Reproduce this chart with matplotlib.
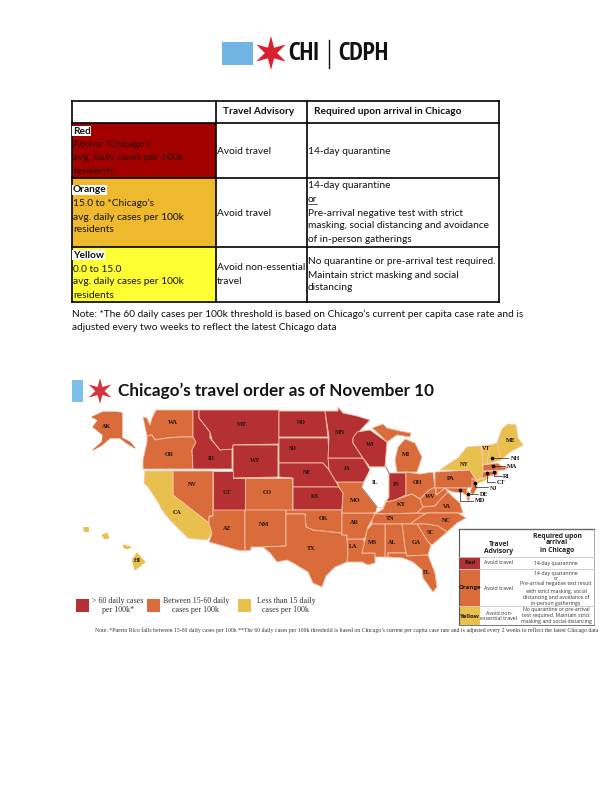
import numpy as np
import matplotlib
matplotlib.use("Agg")
import matplotlib.pyplot as plt
from matplotlib import font_manager as fm
from matplotlib.patches import Polygon, Rectangle, PathPatch
from matplotlib.path import Path
from matplotlib.transforms import Affine2D

# ---------- map data (outlines, page-pixel space) ----------
RED_STATES = ["MT", "ID", "WY", "ND", "SD", "NE", "KS", "UT", "MN", "WI", "IA", "IN"]
YELLOW_STATES = ["CA", "NY", "NY2", "VT", "NH", "ME", "HI", "HI2", "HI3", "HI4"]
NO_DATA_STATES = ["IL"]

OUTLINES = {
 "WA": [(143,417),(147,418),(150,425),(152,418),(156,410),(193,410),(193,437),(180,437),(167,438),(155,440),(152,435),(147,436),(144,422)],
 "OR": [(147,436),(152,435),(155,440),(167,438),(180,437),(195,437),(196,442),(192,450),(193,469),(143,469),(143,460),(147,442)],
 "ID": [(193,410),(199,410),(199,418),(203,423),(210,432),(210,438),(220,450),(232,448),(232,469),(193,469),(192,450),(196,442),(193,437)],
 "MT": [(199,410),(279,410),(279,444),(233,445),(233,449),(220,450),(212,440),(210,432),(203,423),(199,418)],
 "WY": [(233,445),(278,445),(278,477),(233,478)],
 "ND": [(279,411),(325,411),(328,437),(279,437)],
 "SD": [(279,438),(328,438),(329,458),(329,470),(323,463),(279,463)],
 "NE": [(279,463),(323,463),(329,470),(335,480),(339,487),(293,487),(293,478),(279,477)],
 "KS": [(293,487),(339,487),(343,493),(342,510),(293,510)],
 "NV": [(173,471),(213,471),(213,516),(209,516),(209,523),(173,495)],
 "CA": [(145,471),(173,471),(173,495),(209,523),(212,533),(207,540),(188,538),(180,530),(170,520),(162,510),(158,502),(148,487),(144,483)],
 "UT": [(213,471),(233,471),(233,478),(245,478),(245,510),(213,510)],
 "CO": [(245,478),(292,478),(292,510),(245,510)],
 "AZ": [(213,510),(245,510),(245,551),(237,550),(209,542),(212,533),(209,524),(209,517),(213,516)],
 "NM": [(245,510),(286,510),(286,546),(263,547),(251,547),(251,550),(245,551)],
 "OK": [(286,510),(342,510),(342,535),(341,533),(313,530),(306,527),(305,514),(286,514)],
 "TX": [(286,514),(305,514),(306,527),(313,530),(341,533),(342,535),(347,535),(347,539),(348,553),(347,562),(335,567),(326,576),(322,587),(313,583),(308,572),(293,563),(287,560),(277,562),(270,553),(263,547),(286,546)],
 "LA": [(347,539),(363,539),(365,543),(362,553),(375,553),(375,563),(368,565),(362,562),(347,562),(348,553)],
 "AR": [(342,513),(373,513),(375,514),(372,520),(368,527),(365,538),(363,539),(347,539),(347,535),(342,535)],
 "MO": [(337,482),(364,482),(362,488),(370,498),(377,507),(376,512),(373,513),(342,513),(342,510),(343,493),(339,487)],
 "IA": [(328,458),(363,458),(370,470),(364,482),(337,482),(335,480),(329,470)],
 "MN": [(325,411),(338,411),(338,407),(343,413),(357,416),(370,420),(353,438),(353,443),(363,458),(328,458),(329,437)],
 "WI": [(357,432),(370,430),(387,442),(385,467),(370,467),(363,458),(353,443),(353,438)],
 "MI": [(372,428),(383,424),(387,428),(400,431),(411,433),(410,437),(397,435),(387,442),(380,435)],
 "MI2": [(405,439),(415,443),(422,457),(417,472),(397,472),(395,460),(398,447)],
 "IL": [(370,467),(386,467),(389,473),(389,497),(385,502),(383,508),(377,507),(370,498),(362,488),(364,482),(370,470)],
 "IN": [(389,473),(406,473),(406,495),(395,500),(386,502),(389,497)],
 "OH": [(406,472),(420,474),(433,472),(435,487),(428,491),(420,499),(412,494),(406,496)],
 "KY": [(375,514),(383,509),(386,502),(395,500),(406,496),(412,494),(420,499),(423,507),(417,513)],
 "TN": [(375,514),(427,513),(420,517),(410,524),(372,524),(372,520)],
 "WV": [(420,499),(428,491),(435,487),(436,495),(445,488),(448,492),(440,500),(435,506),(423,507)],
 "VA": [(423,507),(435,506),(440,500),(448,492),(453,497),(460,503),(463,513),(417,513)],
 "NC": [(427,513),(458,513),(466,518),(457,523),(447,532),(438,526),(427,524),(410,524),(420,517)],
 "SC": [(417,524),(427,524),(438,526),(447,532),(432,545),(428,542)],
 "GA": [(402,524),(417,524),(428,542),(431,545),(428,555),(407,556),(405,548)],
 "AL": [(385,524),(402,524),(405,548),(406,553),(388,553),(388,557),(385,557)],
 "MS": [(372,524),(385,524),(385,557),(375,557),(375,553),(362,553),(365,540),(367,530)],
 "FL": [(388,553),(406,553),(407,556),(428,555),(435,573),(437,587),(433,592),(423,578),(422,570),(413,562),(403,558),(388,557)],
 "PA": [(435,472),(470,470),(476,480),(472,487),(467,488),(435,488)],
 "NY": [(440,470),(450,463),(458,458),(467,447),(481,446),(482,455),(483,470),(485,477),(476,480),(470,470)],
 "NY2": [(477,481),(489,477),(485,480),(478,483)],
 "VT": [(482,446),(490,445),(487,464),(483,464)],
 "NH": [(490,445),(497,443),(501,460),(487,464)],
 "ME": [(497,443),(502,429),(508,424),(516,425),(518,438),(523,445),(510,452),(501,460)],
 "MA": [(483,465),(498,463),(502,467),(508,467),(505,470),(483,471)],
 "CT": [(483,472),(493,471),(494,475),(482,478)],
 "RI": [(494,471),(498,471),(497,475),(494,476)],
 "NJ": [(472,478),(477,482),(477,488),(473,495),(470,492),(472,487)],
 "DE": [(467,488),(469,495),(470,497),(467,497)],
 "MD": [(436,488),(467,488),(467,497),(470,498),(468,502),(466,495),(463,493),(453,492),(448,490),(445,488),(436,495)],
 "AK": [(103,412),(117,412),(122,413),(122,438),(130,442),(135,448),(128,444),(120,438),(110,438),(102,445),(93,450),(102,442),(103,435),(97,430),(93,427),(98,420),(92,417)],
 "HI": [(132,560),(137,553),(145,562),(135,570)],
 "HI2": [(123,545),(131,547),(128,549),(124,548)],
 "HI3": [(102,535),(107,533),(109,538),(105,539)],
 "HI4": [(83,527),(88,527),(88,531),(84,531)],
}
STATE_LABELS = {
 "AK":(107,427),"WA":(173,423),"OR":(169,454),"MT":(242,425),"ID":(211,458),"WY":(255,461),
 "ND":(301,423),"SD":(293,449),"NE":(307,473),"KS":(315,497),"NV":(192,484),"CA":(177,512),
 "UT":(227,492),"CO":(267,492),"AZ":(227,528),"NM":(264,524),"OK":(323,519),"TX":(311,548),
 "HI":(137,561),"MN":(340,432),"WI":(370,445),"IA":(347,468),"IL":(375,483),"IN":(396,484),
 "MI":(406,455),"MO":(355,501),"AR":(354,522),"LA":(353,546),"MS":(373,542),"AL":(392,542),
 "GA":(416,542),"FL":(427,573),"SC":(431,532),"NC":(446,520),"TN":(390,518),"KY":(401,505),
 "VA":(447,506),"WV":(430,497),"OH":(417,483),"PA":(451,478),"NY":(464,464),"VT":(486,449),"ME":(511,440),
}
LEADER_LABELS = ["NH", "MA", "RI", "CT", "NJ", "DE", "MD"]
LEADER_DOTS = [(492,458),(493,466),(494,472),(487,473),(475,483),(468,494),(460,490)]
LEADER_ELBOWS = [(508,458),(505,466),(494,476),(487,482),(475,487),(478,494),(460,501)]
LEADER_ENDS = [(508,458),(505,466),(502,476),(495,482),(488,487),(478,494),(473,501)]
LEADER_TEXT_X = [511,507,503,497,490,480,475]
LEADER_TEXT_Y = [458,466,476,482,488,494,501]
GRAY_BORDERS = [[(386,467),(389,473)], [(362,488),(370,498),(377,507)]]

# ---------- table data ----------
HEADERS = ["Travel Advisory", "Required upon arrival in Chicago"]
ROW_NAMES = ["Red", "Orange", "Yellow"]
ROW_RANGES = [["Above *Chicago\u2019s", "avg. daily cases per 100k", "residents"],
              ["15.0 to *Chicago\u2019s", "avg. daily cases per 100k", "residents"],
              ["0.0 to 15.0", "avg. daily cases per 100k", "residents"]]
ADVISORIES = [["Avoid travel"], ["Avoid travel"], ["Avoid non-essential", "travel"]]
REQUIRED = [["14-day quarantine"],
            ["14-day quarantine", "or", "Pre-arrival negative test with strict",
             "masking, social distancing and avoidance", "of in-person gatherings"],
            ["No quarantine or pre-arrival test required.", "Maintain strict masking and social", "distancing"]]
NOTE = ["Note: *The 60 daily cases per 100k threshold is based on Chicago\u2019s current per capita case rate and is",
        "adjusted every two weeks to reflect the latest Chicago data"]
MAP_TITLE = "Chicago\u2019s travel order as of November 10"
LEGEND_TEXT = ["> 60 daily cases\nper 100k*", "Between 15-60 daily\ncases per 100k", "Less than 15 daily\ncases per 100k"]
MAP_NOTE = ("Note: *Puerto Rico falls between 15-60 daily cases per 100k **The 60 daily cases per 100k threshold is based on "
            "Chicago\u2019s current per capita case rate and is adjusted every 2 weeks to reflect the latest Chicago data")
MINI_REQUIRED = [["14-day quarantine"],
                 ["14-day quarantine", "or", "Pre-arrival negative test result", "with strict masking, social",
                  "distancing and avoidance of", "in-person gatherings"],
                 ["No quarantine or pre-arrival", "test required. Maintain strict", "masking and social distancing"]]
MINI_ADVISORY = ["Avoid travel", "Avoid travel", "Avoid non-\nessential travel"]

# ---------- colours ----------
C_RED, C_ORANGE, C_YELLOW = "#b53032", "#d96c3a", "#e9c04e"
EDGE = "#f6c3a8"
TABLE_FILLS = ["#a30000", "#efb92d", "#ffff33"]
SANS = "Lato"
SERIF = "Liberation Serif"

fig = plt.figure(figsize=(6.12, 7.92), dpi=100, facecolor="white")
ax = fig.add_axes([0, 0, 1, 1])
ax.set_xlim(0, 612); ax.set_ylim(792, 0); ax.axis("off")

def star(cx, cy, r, color):
    verts = Path.unit_regular_star(6, innerCircle=0.36)
    tr = Affine2D().scale(r, -r).translate(cx, cy)
    ax.add_patch(PathPatch(verts.transformed(tr), fc=color, ec="none", zorder=3))

# pick a condensed bold face if one is installed
def narrow_font():
    best = None
    for f in fm.fontManager.ttflist:
        n = f.name.lower()
        narrow = "narrow" in n or "condensed" in n or "condensed" in str(f.stretch)
        heavy = f.weight in ("bold", 700, "heavy", "black", 800, 900)
        if narrow and heavy:
            best = f
            if "narrow" in n:
                break
    return fm.FontProperties(fname=best.fname) if best else fm.FontProperties(family="Roboto", weight="bold")

def fit_text(x_left, x_right, yc, s, max_h):
    fp = narrow_font()
    txt = ax.text(x_left, yc, s, fontproperties=fp, fontsize=20, ha="left", va="center", color="#111111")
    fig.canvas.draw()
    bb = txt.get_window_extent()
    txt.set_fontsize(20 * min((x_right - x_left) / bb.width, max_h / bb.height))

# ---------- logo ----------
ax.add_patch(Rectangle((222, 42), 31, 23, fc="#71b5e4", ec="none"))
star(271, 53, 17, "#d8202f")
fit_text(288, 319, 53.5, "CHI", 30)
ax.plot([329, 329], [40, 68], color="#111111", lw=1.0)
fit_text(338, 388, 53.5, "CDPH", 30)

# ---------- top table ----------
TX = [72, 216, 307, 499]
TY = [101, 123, 178, 247, 302]
for i, col in enumerate(TABLE_FILLS):
    ax.add_patch(Rectangle((TX[0], TY[i+1]), TX[1]-TX[0], TY[i+2]-TY[i+1], fc=col, ec="none"))
for x in TX:
    ax.plot([x, x], [TY[0], TY[-1]], color="black", lw=1.2, solid_capstyle="projecting")
for y in TY:
    ax.plot([TX[0], TX[-1]], [y, y], color="black", lw=1.2, solid_capstyle="projecting")

FS = 7.3
def t(x, y, s, **kw):
    kw.setdefault("fontsize", FS); kw.setdefault("family", SANS); kw.setdefault("color", "#111111")
    return ax.text(x, y, s, ha=kw.pop("ha", "left"), va=kw.pop("va", "center"), **kw)

t(223, 112, HEADERS[0], weight="bold")
t(314, 112, HEADERS[1], weight="bold")

NAME_Y = [131, 190, 255]
RANGE_Y = [[144, 158, 172], [203, 217, 230], [269, 282, 296]]
ADV_Y = [[151], [213], [268, 282]]
REQ_Y = [[151], [186, 200, 213, 226, 240], [261, 275, 288]]
for i in range(3):
    t(73, NAME_Y[i], ROW_NAMES[i], weight="bold", bbox=dict(fc="white", ec="none", pad=0.5))
    for s, y in zip(ROW_RANGES[i], RANGE_Y[i]):
        t(73, y, s, color="#2a0a00" if i == 0 else "#111111")
    for s, y in zip(ADVISORIES[i], ADV_Y[i]):
        t(217, y, s)
    for s, y in zip(REQUIRED[i], REQ_Y[i]):
        t(308, y, s)
        if s == "or":
            ax.plot([308, 317], [y+4.2, y+4.2], color="#111111", lw=0.5)
for s, y in zip(NOTE, [314, 327]):
    t(72, y, s)

# ---------- map heading ----------
ax.add_patch(Rectangle((72, 380), 11, 22, fc="#7cc0ea", ec="none"))
star(100, 391, 13, "#d3343f")
ax.text(118, 391, MAP_TITLE, family="Lato", weight="bold", fontsize=12.3, va="center", color="#151515")

# ---------- map ----------
def state_color(name):
    if name in RED_STATES: return C_RED
    if name in YELLOW_STATES: return C_YELLOW
    if name in NO_DATA_STATES: return "white"
    return C_ORANGE

for name, pts in OUTLINES.items():
    islands = name.startswith("HI") or name in ("AK", "NY2")
    ax.add_patch(Polygon(pts, closed=True, fc=state_color(name),
                         ec=state_color(name) if islands else EDGE,
                         lw=0.6, joinstyle="round", zorder=2))
for seg in GRAY_BORDERS:
    ax.plot(*zip(*seg), color="#777777", lw=0.6, zorder=2.5)
for name, (x, y) in STATE_LABELS.items():
    ax.text(x, y, name, family=SERIF, weight="bold", fontsize=4.4, ha="center", va="center",
            color="#1c1210", zorder=4)
for lab, d, e, f, tx, ty in zip(LEADER_LABELS, LEADER_DOTS, LEADER_ELBOWS, LEADER_ENDS, LEADER_TEXT_X, LEADER_TEXT_Y):
    ax.plot([d[0], e[0], f[0]], [d[1], e[1], f[1]], color="#222222", lw=0.5, zorder=5)
    ax.plot([d[0]], [d[1]], "o", ms=1.6, color="black", zorder=5)
    ax.text(tx, ty, lab, family=SERIF, weight="bold", fontsize=4.4, ha="left", va="center", color="#1c1210", zorder=5)

# ---------- map legend ----------
LEG_X = [76, 147, 238]
LEG_TX = [118, 196, 286]
for x, c, tx, s in zip(LEG_X, [C_RED, C_ORANGE, C_YELLOW], LEG_TX, LEGEND_TEXT):
    ax.add_patch(Rectangle((x, 599), 13, 13, fc=c, ec="none"))
    ax.text(tx, 605.5, s, family=SERIF, fontsize=5.8, ha="center", va="center", color="#333333", linespacing=1.05)
ax.text(95, 630, MAP_NOTE, family=SERIF, fontsize=4.15, ha="left", va="center", color="#333333")

# ---------- mini table ----------
MX = [459, 480, 594]
MY = [529, 557, 569, 606, 625]
ax.add_patch(Rectangle((MX[0], MY[0]), MX[2]-MX[0], MY[-1]-MY[0], fc="white", ec="none", zorder=6))
for i, c in enumerate([C_RED, C_ORANGE, C_YELLOW]):
    ax.add_patch(Rectangle((MX[0], MY[i+1]), MX[1]-MX[0], MY[i+2]-MY[i+1], fc=c, ec="none", zorder=6))
ax.plot([MX[0], MX[2]], [MY[0], MY[0]], color="#666666", lw=1.0, zorder=7)
ax.plot([MX[0], MX[0]], [MY[0], MY[-1]], color="#555555", lw=0.8, zorder=7)
ax.plot([MX[2], MX[2]], [MY[0], MY[-1]], color="#888888", lw=0.5, zorder=7)
ax.plot([MX[0], MX[2]], [MY[-1], MY[-1]], color="#777777", lw=0.7, zorder=7)
for y in MY[1:-1]:
    ax.plot([MX[0], MX[2]], [y, y], color="#c9c9c9", lw=0.6, zorder=7)

def m(x, y, s, fs=3.8, **kw):
    ax.text(x, y, s, family="Open Sans", fontsize=fs, ha="center", va="center",
            color=kw.pop("color", "#333333"), zorder=8, linespacing=1.0, **kw)

m(499, 548, "Travel\nAdvisory", fs=4.9, weight="bold", color="#222222")
m(557, 543, "Required upon\narrival\nin Chicago", fs=4.9, weight="bold", color="#222222")
for s, y in zip(ROW_NAMES, [563, 588, 616]):
    m(470, y, s, fs=4.4, weight="bold", color="#1a1a1a")
for s, y in zip(MINI_ADVISORY, [563, 588, 616]):
    m(499, y, s)
MINI_Y = [[563], [573, 579, 584, 591, 597, 603], [610, 616, 622]]
for rows, ys in zip(MINI_REQUIRED, MINI_Y):
    for s, y in zip(rows, ys):
        m(556, y, s, fs=3.7)

fig.savefig("out.png", dpi=100, facecolor="white")
